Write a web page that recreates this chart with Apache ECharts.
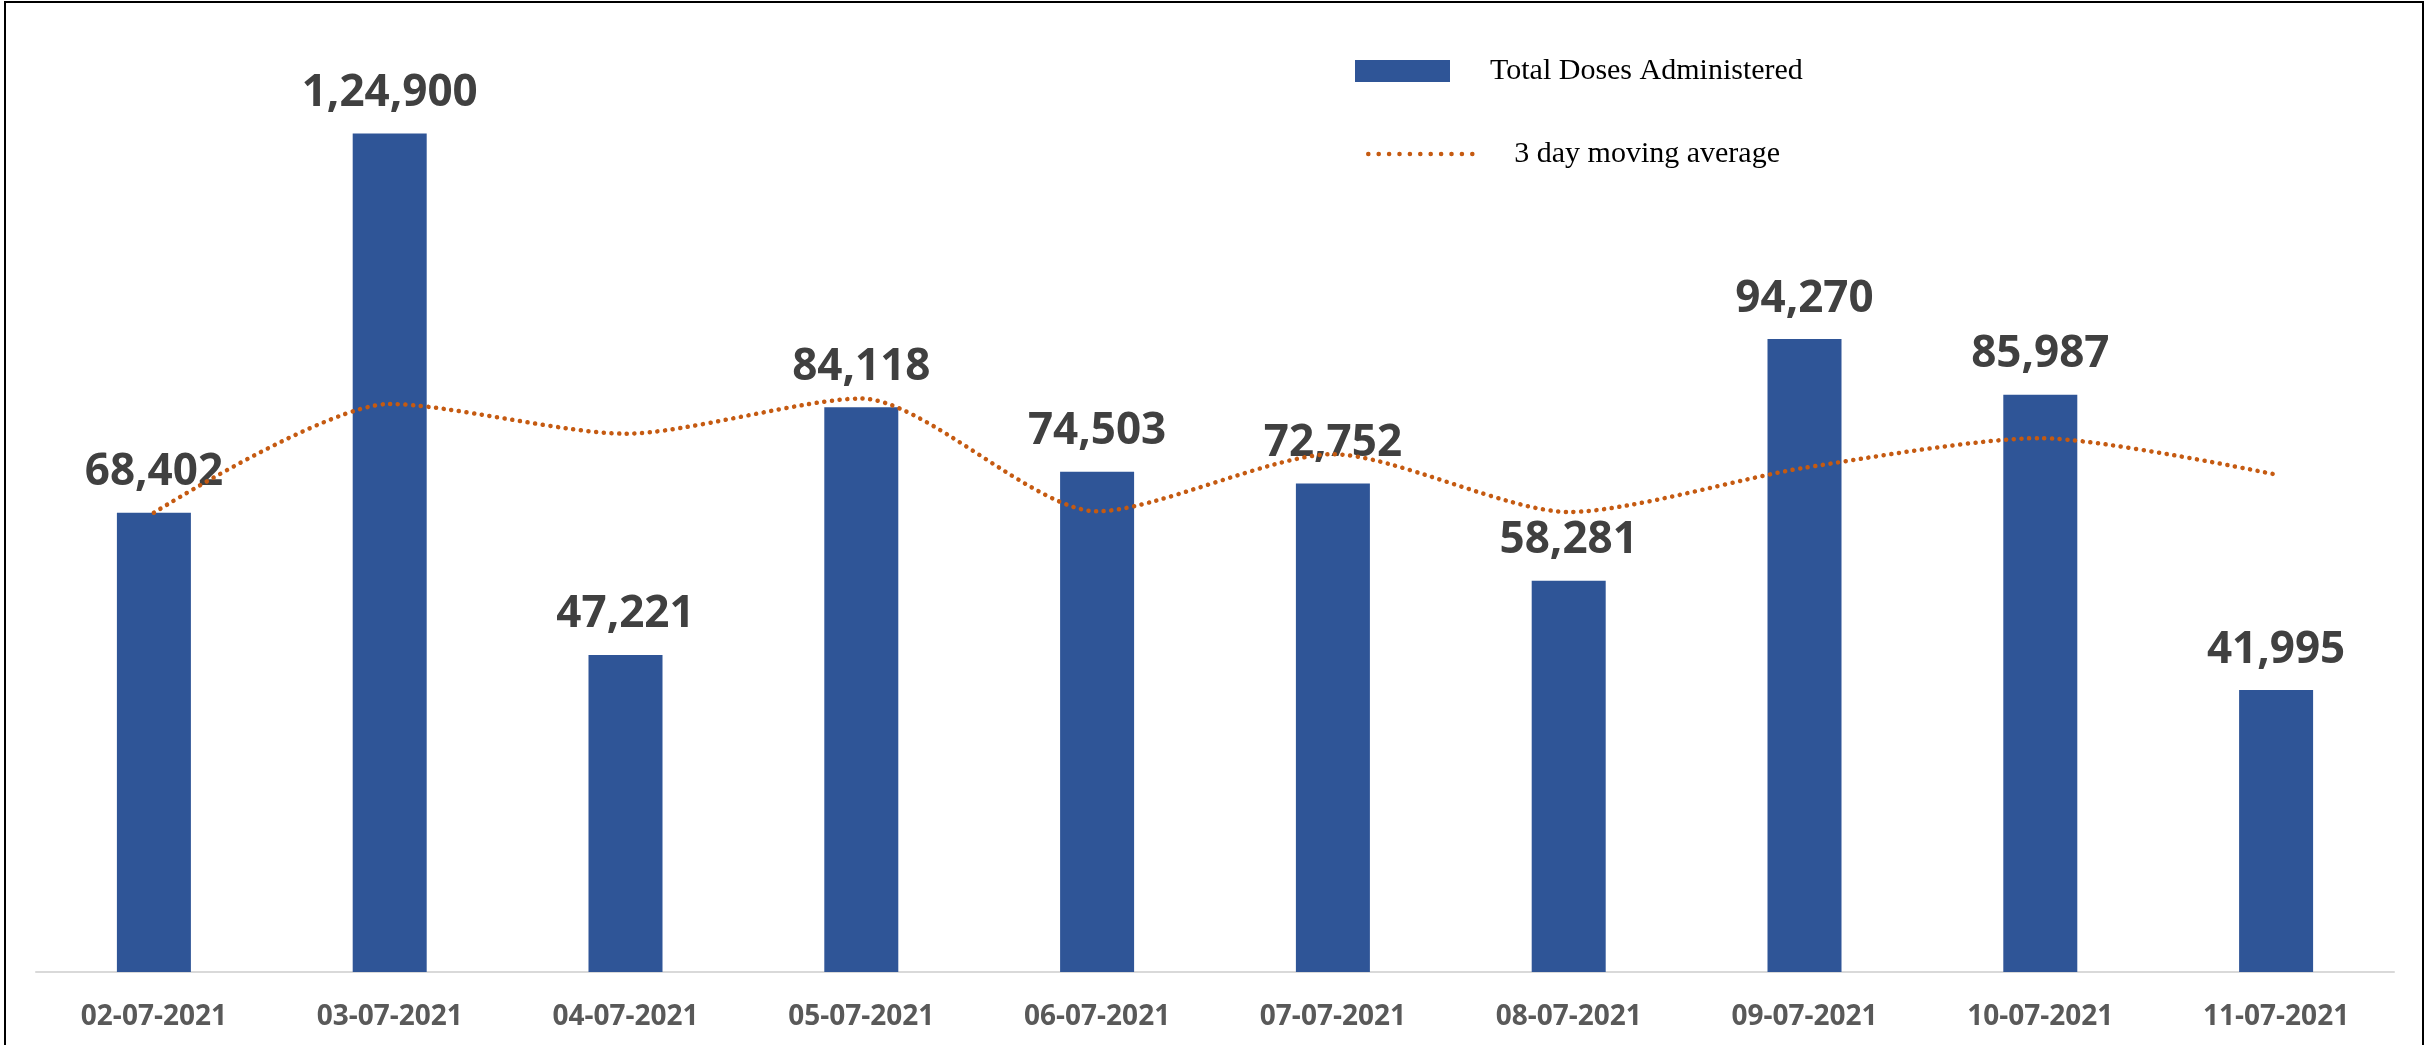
<!DOCTYPE html>
<html>
<head>
<meta charset="utf-8">
<script src="https://cdn.jsdelivr.net/npm/echarts@6/dist/echarts.min.js"></script>
<style>
  html, body { margin: 0; padding: 0; background: #fff; }
  #chart { width: 2432px; height: 1045px; }
</style>
</head>
<body>
<div id="chart"></div>
<script>
const dates = ['02-07-2021', '03-07-2021', '04-07-2021', '05-07-2021', '06-07-2021',
  '07-07-2021', '08-07-2021', '09-07-2021', '10-07-2021', '11-07-2021'];
const totalDoses = [68402, 124900, 47221, 84118, 74503, 72752, 58281, 94270, 85987, 41995];
// moving average
const movingAvg = [68400, 84600, 80170, 85410, 68610, 77120, 68510, 75100, 79510, 74080];

// Indian digit grouping, e.g. 1,24,900
function indianFormat(n) {
  const s = String(Math.round(n));
  if (s.length <= 3) return s;
  const last3 = s.slice(-3);
  const rest = s.slice(0, -3).replace(/\B(?=(\d{2})+(?!\d))/g, ',');
  return rest + ',' + last3;
}

const orange = '#C55A11';

const chart = echarts.init(document.getElementById('chart'));

chart.setOption({
  animation: false,
  graphic: [{
    type: 'rect',
    shape: { x: 5, y: 2, width: 2418, height: 1100 },
    style: { fill: 'none', stroke: '#000', lineWidth: 2 },
    silent: true
  }],
  legend: [
    {
      data: ['Total Doses Administered'],
      left: 1350, top: 51,
      icon: 'rect',
      itemWidth: 95, itemHeight: 22,
      selectedMode: false,
      textStyle: { fontFamily: 'Liberation Serif', fontSize: 30, color: '#000', padding: [0, 0, 0, 35] }
    },
    {
      data: ['3 day moving average'],
      left: 1361, top: 134,
      itemWidth: 113, itemHeight: 22,
      selectedMode: false,
      itemStyle: { opacity: 0 },
      lineStyle: { color: orange, width: 4.5, type: [0.1, 10.3], cap: 'round' },
      textStyle: { fontFamily: 'Liberation Serif', fontSize: 30, color: '#000', padding: [0, 0, 0, 28] }
    }
  ],
  grid: { left: 36, right: 38, top: 32, bottom: 73 },
  xAxis: {
    type: 'category',
    data: dates,
    axisLine: { lineStyle: { color: '#D9D9D9', width: 2 } },
    axisTick: { show: false },
    axisLabel: {
      color: '#595959', fontFamily: 'Open Sans', fontWeight: 'bold', fontSize: 28, margin: 31
    }
  },
  yAxis: {
    type: 'value', min: 0, max: 140000, show: false,
    splitLine: { show: false }
  },
  series: [
    {
      name: 'Total Doses Administered',
      type: 'bar',
      data: totalDoses,
      barWidth: 74,
      itemStyle: { color: '#2F5597' },
      label: {
        show: true, position: 'top', distance: 18,
        color: '#404040', fontFamily: 'Open Sans', fontWeight: 'bold', fontSize: 44,
        formatter: p => indianFormat(p.value)
      }
    },
    {
      name: '3 day moving average',
      type: 'line',
      data: movingAvg,
      smooth: 0.25,
      symbol: 'none',
      z: 5,
      lineStyle: { color: orange, width: 4.5, type: [0.1, 7.6], cap: 'round' }
    }
  ]
});
</script>
</body>
</html>
